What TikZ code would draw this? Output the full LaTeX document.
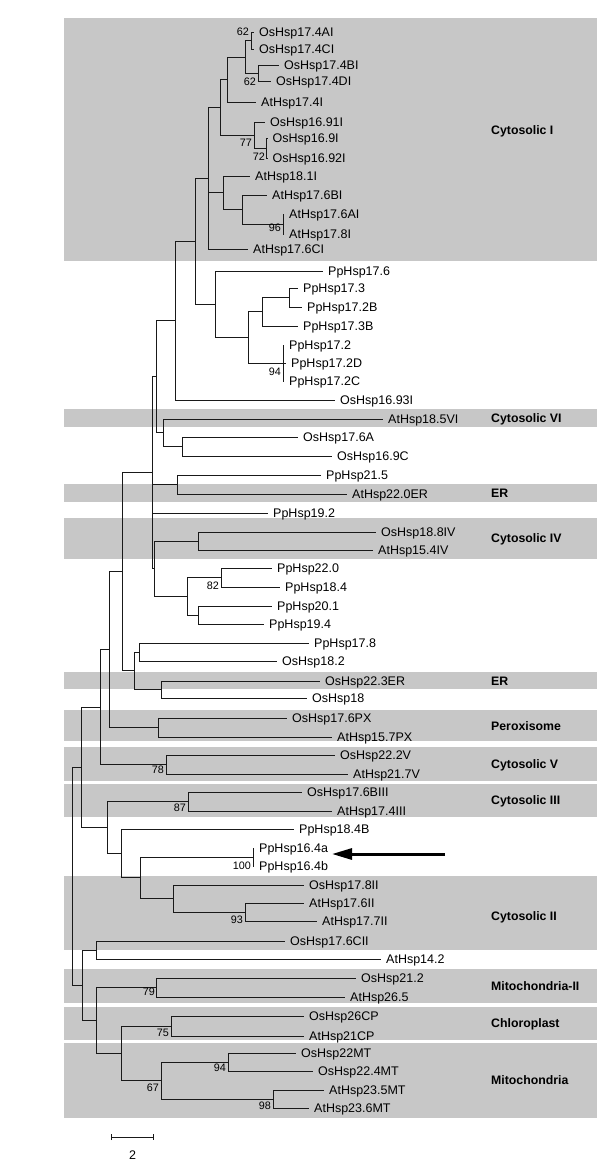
\documentclass[tikz,border=0pt]{standalone}
\usepackage{fontspec}
\setmainfont{Liberation Sans}
\usetikzlibrary{arrows.meta}
\definecolor{bandgray}{RGB}{199,199,199}
\begin{document}
\begin{tikzpicture}[x=1pt,y=-1pt,
  br/.style={draw=black!90, line width=0.9pt},
  band/.style={fill=bandgray, draw=none},
  leaf/.style={anchor=west, inner xsep=5pt, inner ysep=0pt, text height=9pt, text depth=0pt, font=\fontsize{12.5}{14}\selectfont},
  boot/.style={anchor=east, inner sep=0pt, text height=7.8pt, text depth=0pt, font=\fontsize{10.8}{12}\selectfont},
  clade/.style={anchor=west, inner sep=0pt, text height=9pt, text depth=0pt, font=\fontsize{12.3}{14}\selectfont\bfseries}]
\useasboundingbox (0,0) rectangle (600,1163);
\fill[white] (0,0) rectangle (600,1163);
% bands
\fill[band] (64,18) rectangle (597,261);
\fill[band] (64,409) rectangle (597,427);
\fill[band] (64,484) rectangle (597,502);
\fill[band] (64,518) rectangle (597,559);
\fill[band] (64,672) rectangle (597,689);
\fill[band] (64,710) rectangle (597,741);
\fill[band] (64,747) rectangle (597,781);
\fill[band] (64,783.5) rectangle (597,817);
\fill[band] (64,876) rectangle (597,950);
\fill[band] (64,969) rectangle (597,1003);
\fill[band] (64,1007) rectangle (597,1040);
\fill[band] (64,1043) rectangle (597,1118);
% clade labels
\node[clade] (c1) at (491,130) {Cytosolic I};
\node[clade] (c2) at (491,418) {Cytosolic VI};
\node[clade] (c3) at (491,493) {ER};
\node[clade] (c4) at (491,538) {Cytosolic IV};
\node[clade] (c5) at (491,681) {ER};
\node[clade] (c6) at (491,726) {Peroxisome};
\node[clade] (c7) at (491,764) {Cytosolic V};
\node[clade] (c8) at (491,800) {Cytosolic III};
\node[clade] (c9) at (491,916) {Cytosolic II};
\node[clade] (c10) at (491,986) {Mitochondria-II};
\node[clade] (c11) at (491,1023) {Chloroplast};
\node[clade] (c12) at (491,1080) {Mitochondria};
% leaves
\node[leaf] (l1) at (254,32) {OsHsp17.4AI};
\node[leaf] (l2) at (254,49) {OsHsp17.4CI};
\node[leaf] (l3) at (279,65) {OsHsp17.4BI};
\node[leaf] (l4) at (271,81) {OsHsp17.4DI};
\node[leaf] (l5) at (256,102) {AtHsp17.4I};
\node[leaf] (l6) at (265,122) {OsHsp16.91I};
\node[leaf] (l7) at (267.5,138) {OsHsp16.9I};
\node[leaf] (l8) at (267.5,158) {OsHsp16.92I};
\node[leaf] (l9) at (250,176) {AtHsp18.1I};
\node[leaf] (l10) at (267,195) {AtHsp17.6BI};
\node[leaf] (l11) at (284,214) {AtHsp17.6AI};
\node[leaf] (l12) at (284,234) {AtHsp17.8I};
\node[leaf] (l13) at (248,249) {AtHsp17.6CI};
\node[leaf] (l14) at (323,271) {PpHsp17.6};
\node[leaf] (l15) at (298,288) {PpHsp17.3};
\node[leaf] (l16) at (302,307) {PpHsp17.2B};
\node[leaf] (l17) at (298,326) {PpHsp17.3B};
\node[leaf] (l18) at (284,345) {PpHsp17.2};
\node[leaf] (l19) at (286,363) {PpHsp17.2D};
\node[leaf] (l20) at (284,381) {PpHsp17.2C};
\node[leaf] (l21) at (335,400) {OsHsp16.93I};
\node[leaf] (l22) at (383,419) {AtHsp18.5VI};
\node[leaf] (l23) at (298,437) {OsHsp17.6A};
\node[leaf] (l24) at (332,456) {OsHsp16.9C};
\node[leaf] (l25) at (321,475) {PpHsp21.5};
\node[leaf] (l26) at (347,494) {AtHsp22.0ER};
\node[leaf] (l27) at (268,513) {PpHsp19.2};
\node[leaf] (l28) at (376,532) {OsHsp18.8IV};
\node[leaf] (l29) at (373,550) {AtHsp15.4IV};
\node[leaf] (l30) at (272,568) {PpHsp22.0};
\node[leaf] (l31) at (280,587) {PpHsp18.4};
\node[leaf] (l32) at (272,606) {PpHsp20.1};
\node[leaf] (l33) at (264,624) {PpHsp19.4};
\node[leaf] (l34) at (309,643) {PpHsp17.8};
\node[leaf] (l35) at (277,661) {OsHsp18.2};
\node[leaf] (l36) at (320,681) {OsHsp22.3ER};
\node[leaf] (l37) at (307,698) {OsHsp18};
\node[leaf] (l38) at (287,718) {OsHsp17.6PX};
\node[leaf] (l39) at (332,737) {AtHsp15.7PX};
\node[leaf] (l40) at (335,755) {OsHsp22.2V};
\node[leaf] (l41) at (348,774) {AtHsp21.7V};
\node[leaf] (l42) at (302,792) {OsHsp17.6BIII};
\node[leaf] (l43) at (332,811) {AtHsp17.4III};
\node[leaf] (l44) at (294,829) {PpHsp18.4B};
\node[leaf] (l45) at (254,848) {PpHsp16.4a};
\node[leaf] (l46) at (254,866) {PpHsp16.4b};
\node[leaf] (l47) at (304,885) {OsHsp17.8II};
\node[leaf] (l48) at (304,903) {AtHsp17.6II};
\node[leaf] (l49) at (317,921) {AtHsp17.7II};
\node[leaf] (l50) at (285,941) {OsHsp17.6CII};
\node[leaf] (l51) at (381,959) {AtHsp14.2};
\node[leaf] (l52) at (356,978) {OsHsp21.2};
\node[leaf] (l53) at (345,997) {AtHsp26.5};
\node[leaf] (l54) at (304,1016) {OsHsp26CP};
\node[leaf] (l55) at (304,1036) {AtHsp21CP};
\node[leaf] (l56) at (296,1053) {OsHsp22MT};
\node[leaf] (l57) at (313,1071) {OsHsp22.4MT};
\node[leaf] (l58) at (324,1090) {AtHsp23.5MT};
\node[leaf] (l59) at (309,1108) {AtHsp23.6MT};
% internal nodes
\coordinate (nAC) at (251,40.5);
\coordinate (nBD) at (258,73);
\coordinate (n245) at (245,57);
\coordinate (n227) at (227,79.5);
\coordinate (n266) at (266,148);
\coordinate (n254) at (254,135);
\coordinate (n220) at (220,107.3);
\coordinate (n283a) at (283,224);
\coordinate (n242) at (242,209.5);
\coordinate (n223) at (223,192.8);
\coordinate (n208) at (208,178);
\coordinate (n289) at (289,297.5);
\coordinate (n262) at (262,311.8);
\coordinate (n283b) at (283,363);
\coordinate (n248) at (248,337.4);
\coordinate (n215) at (215,304.2);
\coordinate (n195) at (195,241.1);
\coordinate (n175) at (175,320.5);
\coordinate (n182) at (182,446.5);
\coordinate (n163) at (163,432.8);
\coordinate (n156) at (156,376.6);
\coordinate (n177) at (177,484.5);
\coordinate (n198a) at (198,541);
\coordinate (n221) at (221,577.5);
\coordinate (n198b) at (198,615);
\coordinate (n187) at (187,596.3);
\coordinate (n154) at (154,568.6);
\coordinate (n152) at (152,472.6);
\coordinate (n139) at (139,652);
\coordinate (n161a) at (161,689.5);
\coordinate (n134) at (134,670.8);
\coordinate (n122) at (122,571.7);
\coordinate (n158) at (158,727.5);
\coordinate (n109) at (109,649.6);
\coordinate (n166) at (166,764.5);
\coordinate (n100) at (100,707);
\coordinate (n188) at (188,801.5);
\coordinate (n253) at (253,857);
\coordinate (n245b) at (245,912);
\coordinate (n173) at (173,898.5);
\coordinate (n140) at (140,877.8);
\coordinate (n121a) at (121,853.4);
\coordinate (n107) at (107,827.4);
\coordinate (n81) at (81,767);
\coordinate (n96a) at (96,950);
\coordinate (n156b) at (156,987.5);
\coordinate (n171) at (171,1026);
\coordinate (n228) at (228,1062);
\coordinate (n273) at (273,1099);
\coordinate (n161b) at (161,1080.5);
\coordinate (n121b) at (121,1053.3);
\coordinate (n96b) at (96,1020.4);
\coordinate (n82) at (82,985.2);
\coordinate (root) at (72,876);
% branches
\draw[br] (nAC) |- (l1.west); \draw[br] (nAC) |- (l2.west);
\draw[br] (nBD) |- (l3.west); \draw[br] (nBD) |- (l4.west);
\draw[br] (n245) |- (nAC); \draw[br] (n245) |- (nBD);
\draw[br] (n227) |- (n245); \draw[br] (n227) |- (l5.west);
\draw[br] (n266) |- (l7.west); \draw[br] (n266) |- (l8.west);
\draw[br] (n254) |- (l6.west); \draw[br] (n254) |- (n266);
\draw[br] (n220) |- (n227); \draw[br] (n220) |- (n254);
\draw[br] (n283a) |- (l11.west); \draw[br] (n283a) |- (l12.west);
\draw[br] (n242) |- (l10.west); \draw[br] (n242) |- (n283a);
\draw[br] (n223) |- (l9.west); \draw[br] (n223) |- (n242);
\draw[br] (n208) |- (n220); \draw[br] (n208) |- (n223); \draw[br] (n208) |- (l13.west);
\draw[br] (n289) |- (l15.west); \draw[br] (n289) |- (l16.west);
\draw[br] (n262) |- (n289); \draw[br] (n262) |- (l17.west);
\draw[br] (n283b) |- (l18.west); \draw[br] (n283b) |- (l19.west); \draw[br] (n283b) |- (l20.west);
\draw[br] (n248) |- (n262); \draw[br] (n248) |- (n283b);
\draw[br] (n215) |- (l14.west); \draw[br] (n215) |- (n248);
\draw[br] (n195) |- (n208); \draw[br] (n195) |- (n215);
\draw[br] (n175) |- (n195); \draw[br] (n175) |- (l21.west);
\draw[br] (n182) |- (l23.west); \draw[br] (n182) |- (l24.west);
\draw[br] (n163) |- (l22.west); \draw[br] (n163) |- (n182);
\draw[br] (n156) |- (n175); \draw[br] (n156) |- (n163);
\draw[br] (n177) |- (l25.west); \draw[br] (n177) |- (l26.west);
\draw[br] (n198a) |- (l28.west); \draw[br] (n198a) |- (l29.west);
\draw[br] (n221) |- (l30.west); \draw[br] (n221) |- (l31.west);
\draw[br] (n198b) |- (l32.west); \draw[br] (n198b) |- (l33.west);
\draw[br] (n187) |- (n221); \draw[br] (n187) |- (n198b);
\draw[br] (n154) |- (n198a); \draw[br] (n154) |- (n187);
\draw[br] (n152) |- (n156); \draw[br] (n152) |- (n177); \draw[br] (n152) |- (l27.west); \draw[br] (n152) |- (n154);
\draw[br] (n139) |- (l34.west); \draw[br] (n139) |- (l35.west);
\draw[br] (n161a) |- (l36.west); \draw[br] (n161a) |- (l37.west);
\draw[br] (n134) |- (n139); \draw[br] (n134) |- (n161a);
\draw[br] (n122) |- (n152); \draw[br] (n122) |- (n134);
\draw[br] (n158) |- (l38.west); \draw[br] (n158) |- (l39.west);
\draw[br] (n109) |- (n122); \draw[br] (n109) |- (n158);
\draw[br] (n166) |- (l40.west); \draw[br] (n166) |- (l41.west);
\draw[br] (n100) |- (n109); \draw[br] (n100) |- (n166);
\draw[br] (n188) |- (l42.west); \draw[br] (n188) |- (l43.west);
\draw[br] (n253) |- (l45.west); \draw[br] (n253) |- (l46.west);
\draw[br] (n245b) |- (l48.west); \draw[br] (n245b) |- (l49.west);
\draw[br] (n173) |- (l47.west); \draw[br] (n173) |- (n245b);
\draw[br] (n140) |- (n253); \draw[br] (n140) |- (n173);
\draw[br] (n121a) |- (l44.west); \draw[br] (n121a) |- (n140);
\draw[br] (n107) |- (n188); \draw[br] (n107) |- (n121a);
\draw[br] (n81) |- (n100); \draw[br] (n81) |- (n107);
\draw[br] (n96a) |- (l50.west); \draw[br] (n96a) |- (l51.west);
\draw[br] (n156b) |- (l52.west); \draw[br] (n156b) |- (l53.west);
\draw[br] (n171) |- (l54.west); \draw[br] (n171) |- (l55.west);
\draw[br] (n228) |- (l56.west); \draw[br] (n228) |- (l57.west);
\draw[br] (n273) |- (l58.west); \draw[br] (n273) |- (l59.west);
\draw[br] (n161b) |- (n228); \draw[br] (n161b) |- (n273);
\draw[br] (n121b) |- (n171); \draw[br] (n121b) |- (n161b);
\draw[br] (n96b) |- (n156b); \draw[br] (n96b) |- (n121b);
\draw[br] (n82) |- (n96a); \draw[br] (n82) |- (n96b);
\draw[br] (root) |- (n81); \draw[br] (root) |- (n82);
% bootstrap values
\node[boot] (b1) at (249,32) {62};
\node[boot] (b2) at (256,82) {62};
\node[boot] (b3) at (252,143) {77};
\node[boot] (b4) at (265,157) {72};
\node[boot] (b5) at (281,228) {96};
\node[boot] (b6) at (281,372) {94};
\node[boot] (b7) at (219,586) {82};
\node[boot] (b8) at (164,770) {78};
\node[boot] (b9) at (186,808) {87};
\node[boot] (b10) at (251,866) {100};
\node[boot] (b11) at (243,920) {93};
\node[boot] (b12) at (155,992) {79};
\node[boot] (b13) at (169,1033) {75};
\node[boot] (b14) at (226,1068) {94};
\node[boot] (b15) at (159,1088) {67};
\node[boot] (b16) at (271,1106) {98};
% arrow
\coordinate (arrS) at (445,854);
\coordinate (arrE) at (332,854);
\draw[line width=3pt, -{Triangle[length=20pt,width=11pt]}] (arrS) -- (arrE);
% scale bar
\coordinate (sbL) at (111,1137);
\coordinate (sbR) at (154,1137);
\draw[br, {Bar[width=6pt]}-{Bar[width=6pt]}] (sbL) -- (sbR);
\node[leaf, anchor=center, inner xsep=0pt] (sbT) at (132.5,1155) {2};
\end{tikzpicture}
\end{document}
